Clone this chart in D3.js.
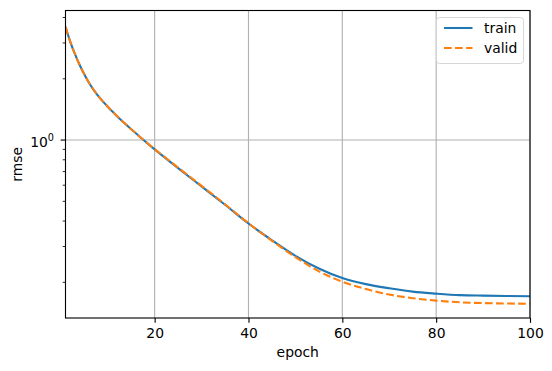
<!DOCTYPE html>
<html lang="en">
  <head>
    <title>rmse</title>
    <script src="https://d3js.org/d3.v7.min.js"></script>
    <style>
      body { margin: 0; background: #fff; }
      text { font-family: "DejaVu Sans", sans-serif; font-size: 13.9px; fill: #000; }
    </style>
  </head>
  <body>
  <script>
  const width = 552;
  const height = 371;

  // values
  const epochs = [1, 2, 3, 4, 5, 6, 7, 8, 9, 10, 11, 12, 13, 14, 15, 16, 17, 18, 19, 20, 25, 30, 35, 40, 45, 50, 55, 60, 65, 70, 75, 80, 85, 90, 95, 100];
  const trainRmse = [3.597, 3.048, 2.649, 2.344, 2.104, 1.914, 1.766, 1.644, 1.545, 1.459, 1.38, 1.309, 1.245, 1.186, 1.13, 1.079, 1.03, 0.984, 0.94, 0.9,
    0.728, 0.592, 0.481, 0.389, 0.322, 0.27, 0.234, 0.21, 0.196, 0.187, 0.18, 0.176, 0.173, 0.172, 0.1714, 0.171];
  const validRmse = [3.597, 3.048, 2.649, 2.344, 2.104, 1.914, 1.766, 1.644, 1.545, 1.459, 1.38, 1.309, 1.245, 1.186, 1.13, 1.079, 1.03, 0.985, 0.942, 0.903,
    0.732, 0.596, 0.484, 0.39, 0.32, 0.266, 0.2265, 0.2014, 0.1854, 0.1742, 0.1671, 0.1626, 0.1596, 0.1581, 0.1574, 0.157];
  const xTicks = [20, 40, 60, 80, 100];
  const yMinorTicks = [0.2, 0.3, 0.4, 0.5, 0.6, 0.7, 0.8, 0.9, 2, 3, 4];
  const seriesNames = ['train', 'valid'];
  const colors = ['#1f77b4', '#ff7f0e'];

  const pt = 100 / 72;
  const margin = {left: 65.5, right: 22, top: 10.5, bottom: 53};
  const x = d3.scaleLinear().domain([1, 100]).range([margin.left, width - margin.right]);
  const y = d3.scaleLog().domain([0.1336, 4.33]).range([height - margin.bottom, margin.top]);

  const svg = d3.select(document.body).append('svg').attr('width', width).attr('height', height);

  // grid
  svg.append('g').selectAll('line').data(xTicks).enter().append('line')
    .attr('x1', d => x(d)).attr('x2', d => x(d))
    .attr('y1', y.range()[0]).attr('y2', y.range()[1])
    .attr('stroke', '#b0b0b0').attr('stroke-width', 0.8 * pt);
  svg.append('line')
    .attr('x1', x.range()[0]).attr('x2', x.range()[1])
    .attr('y1', y(1)).attr('y2', y(1))
    .attr('stroke', '#b0b0b0').attr('stroke-width', 0.8 * pt);

  // lines
  const series = [trainRmse, validRmse];
  const line = d3.line().x((d, i) => x(epochs[i])).y(d => y(d)).curve(d3.curveMonotoneX);
  svg.append('clipPath').attr('id', 'clip').append('rect')
    .attr('x', x.range()[0]).attr('y', y.range()[1])
    .attr('width', x.range()[1] - x.range()[0]).attr('height', y.range()[0] - y.range()[1]);
  series.forEach(function(s, i) {
    svg.append('path')
      .attr('d', line(s))
      .attr('fill', 'none')
      .attr('clip-path', 'url(#clip)')
      .attr('stroke', colors[i])
      .attr('stroke-width', 1.5 * pt)
      .attr('stroke-dasharray', i === 1 ? (5.55 * pt) + ',' + (2.4 * pt) : null);
  });

  // x axis
  const xAxis = svg.append('g')
    .attr('transform', 'translate(0,' + y.range()[0] + ')')
    .call(d3.axisBottom(x).tickValues(xTicks).tickSize(3.5 * pt).tickPadding(3.5 * pt).tickSizeOuter(0));
  xAxis.select('.domain').remove();
  xAxis.selectAll('text').style('font-size', '13.9px').style('font-family', '"DejaVu Sans", sans-serif');
  xAxis.selectAll('line').attr('stroke-width', 0.8 * pt);

  // y axis: major + minor ticks
  const yg = svg.append('g');
  yg.selectAll('line.minor').data(yMinorTicks).enter().append('line')
    .attr('x1', x.range()[0] - 2 * pt).attr('x2', x.range()[0])
    .attr('y1', d => y(d)).attr('y2', d => y(d))
    .attr('stroke', '#000').attr('stroke-width', 0.6 * pt);
  yg.append('line')
    .attr('x1', x.range()[0] - 3.5 * pt).attr('x2', x.range()[0])
    .attr('y1', y(1)).attr('y2', y(1))
    .attr('stroke', '#000').attr('stroke-width', 0.8 * pt);
  const lbl = yg.append('text')
    .attr('x', x.range()[0] - 11.5).attr('y', y(1) + 6.5)
    .attr('text-anchor', 'end');
  lbl.append('tspan').text('10');
  lbl.append('tspan').attr('dy', -6).style('font-size', '9.7px').text('0');

  // frame
  svg.append('rect')
    .attr('x', x.range()[0]).attr('y', y.range()[1])
    .attr('width', x.range()[1] - x.range()[0]).attr('height', y.range()[0] - y.range()[1])
    .attr('fill', 'none').attr('stroke', '#000').attr('stroke-width', 0.8 * pt);

  // axis labels
  svg.append('text').attr('x', (x.range()[0] + x.range()[1]) / 2).attr('y', 357)
    .attr('text-anchor', 'middle').text('epoch');
  svg.append('text')
    .attr('transform', 'translate(22,' + (y.range()[0] + y.range()[1]) / 2 + ') rotate(-90)')
    .attr('text-anchor', 'middle').text('rmse');

  // legend
  const legend = svg.append('g');
  legend.append('rect')
    .attr('x', 436.5).attr('y', 17.5).attr('width', 87).attr('height', 46)
    .attr('rx', 3).attr('fill', '#fff').attr('fill-opacity', 0.8)
    .attr('stroke', '#d6d6d6').attr('stroke-width', 1);
  seriesNames.forEach(function(name, i) {
    const ly = 28 + i * 20;
    legend.append('line')
      .attr('x1', 444).attr('x2', 472.5).attr('y1', ly).attr('y2', ly)
      .attr('stroke', colors[i]).attr('stroke-width', 1.5 * pt)
      .attr('stroke-dasharray', i === 1 ? (5.55 * pt) + ',' + (2.4 * pt) : null);
    legend.append('text').attr('x', 484).attr('y', ly + 5).text(name);
  });
</script>
  </body>
</html>
